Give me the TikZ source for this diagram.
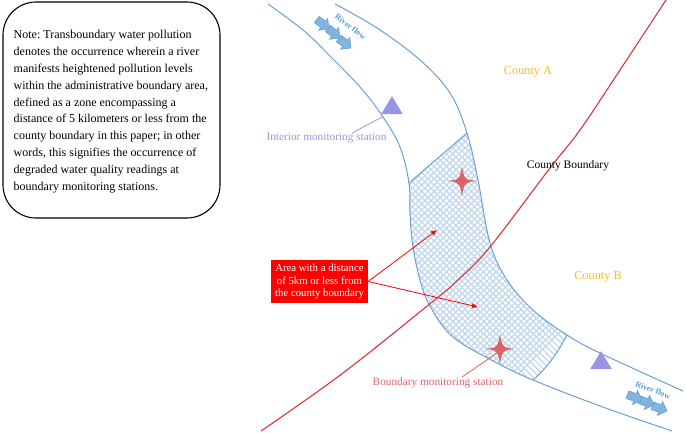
\documentclass[tikz,border=0pt]{standalone}
\usepackage{fontspec}
\setmainfont{Liberation Serif}
\usetikzlibrary{shapes.geometric,arrows.meta}
\frenchspacing
\definecolor{riverblue}{HTML}{6A9FD6}
\definecolor{hatchblue}{HTML}{BFD6ED}
\definecolor{flowblue}{HTML}{85B3E0}
\definecolor{flowedge}{HTML}{5B9BD5}
\definecolor{boundred}{HTML}{DD3338}
\definecolor{starred}{HTML}{DB6468}
\definecolor{tripurple}{HTML}{9896E2}
\definecolor{countyorange}{HTML}{F7BC1E}
\tikzset{
  bank/.style={draw=riverblue,line width=1pt},
  flowshape/.style={draw=flowedge,fill=flowblue,line width=0.5pt,line join=miter},
  flowtext/.style={text=flowedge,font=\bfseries\fontsize{8.2}{9}\selectfont,inner sep=0pt},
  countytext/.style={text=countyorange,font=\fontsize{12.3}{14}\selectfont,inner sep=0pt},
  notetext/.style={anchor=base west,inner sep=0pt,font=\fontsize{12}{14}\selectfont},
  stationtext/.style={inner sep=0pt,font=\fontsize{11.3}{13}\selectfont},
  redarrow/.style={draw=red,line width=0.8pt,-{Latex[length=6pt,width=5.5pt]}},
  tri/.style={isosceles triangle,isosceles triangle apex angle=62,shape border rotate=90,fill=tripurple,inner sep=0pt,minimum height=18pt},
}
\newcommand{\fourstar}[2]{%
  \fill[starred] (#1+15,#2) .. controls (#1+3,#2+1.2) and (#1+2,#2+2) .. (#1,#2+15)
   .. controls (#1-2,#2+2) and (#1-3,#2+1.2) .. (#1-15,#2)
   .. controls (#1-3,#2-1.2) and (#1-2,#2-2) .. (#1,#2-15)
   .. controls (#1+2,#2-2) and (#1+3,#2-1.2) .. (#1+15,#2) -- cycle;}
\newcommand{\flowarr}[3]{%
  \begin{scope}[shift={(#1,#2)},rotate=#3]
  \draw[flowshape] (0,0) -- (-7.5,-7.5) -- (-7.5,-4) -- (-15.5,-4) -- (-15.5,4) -- (-7.5,4) -- (-7.5,7.5) -- cycle;
  \end{scope}}
\begin{document}
\begin{tikzpicture}[x=1pt,y=-1pt]
\useasboundingbox (0,0) rectangle (685,433);
% note box
\draw[line width=1.1pt,rounded corners=33pt] (3,2) rectangle (220,218);
\node[notetext] (n1) at (13.5,39) {Note: Transboundary water pollution};
\node[notetext] (n2) at (13.5,55.8) {denotes the occurrence wherein a river};
\node[notetext] (n3) at (13.5,72.6) {manifests heightened pollution levels};
\node[notetext] (n4) at (13.5,89.4) {within the administrative boundary area,};
\node[notetext] (n5) at (13.5,106.2) {defined as a zone encompassing a};
\node[notetext] (n6) at (13.5,123) {distance of 5 kilometers or less from the};
\node[notetext] (n7) at (13.5,139.8) {county boundary in this paper; in other};
\node[notetext] (n8) at (13.5,156.6) {words, this signifies the occurrence of};
\node[notetext] (n9) at (13.5,173.4) {degraded water quality readings at};
\node[notetext] (n10) at (13.5,190.2) {boundary monitoring stations.};
% hatched zone
\begin{scope}
\clip plot[smooth,tension=0.6] coordinates {(409,183) (410,215) (413,247) (420,280) (430,306) (453,337) (497,363) (533,380)}
  .. controls (548,367) and (558,352) .. (567,335)
  -- plot[smooth,tension=0.6] coordinates {(567,335) (533,310) (507,280) (490,243) (478,180) (467,133)} -- cycle;
\foreach \k in {-50,...,60}{
  \draw[hatchblue,line width=1.2pt] (400+\k*6.2,120) -- ++(300,300);
  \draw[hatchblue,line width=1.2pt] (400+\k*6.2,120) -- ++(-300,300);
}
\end{scope}
% river banks
\draw[bank] plot[smooth,tension=0.6] coordinates {(268,4) (303,30) (327,53) (360,87) (383,117) (400,147) (409,183) (410,215) (413,247) (420,280) (430,306) (453,337) (497,363) (533,380) (600,406) (672,431)};
\draw[bank] plot[smooth,tension=0.6] coordinates {(335,4) (377,28) (420,60) (450,93) (467,133) (478,180) (490,243) (507,280) (533,310) (567,335) (602,354) (683,391)};
\draw[bank] (409,183) -- (467,133);
\draw[bank] (533,380) .. controls (548,367) and (558,352) .. (567,335);
% county boundary
\draw[boundred,line width=1.1pt] plot[smooth,tension=0.6] coordinates {(261,431) (343,373) (437,298) (458,280) (490,247) (550,168) (580,130) (620,70) (666,0)};
% stars and triangles
\fourstar{462}{181}
\fourstar{500}{349}
\node[tri] (t1) at (392,108) {};
\node[tri] (t2) at (601,363) {};
% flow arrows
\flowarr{351}{48}{-38}
\flowarr{340}{38}{-38}
\flowarr{329}{29}{-38}
\flowarr{667}{411}{-20}
\flowarr{654}{405}{-20}
\flowarr{642}{400}{-20}
\node[flowtext,rotate=-38] (f1) at (350.5,26.5) {River flow};
\node[flowtext,rotate=-21] (f2) at (653,390) {River flow};
% labels
\node[stationtext,text=tripurple] (l1) at (326.5,137.5) {Interior monitoring station};
\node[stationtext,text=starred] (l2) at (438,382.5) {Boundary monitoring station};
\coordinate (t1c) at (383,116.5);
\coordinate (s2c) at (497,353);
\draw[tripurple,line width=0.8pt] (352,133) -- (t1c);
\draw[starred,line width=0.8pt] (462,377) -- (s2c);
\node[countytext] (ca) at (528,72) {County A};
\node[countytext] (cb) at (598,277) {County B};
\node[inner sep=0pt,font=\fontsize{11.5}{13}\selectfont] (cbd) at (568,166) {County Boundary};
% red box
\node[fill=red,text=white,align=center,inner sep=0pt,minimum width=97pt,minimum height=43pt,font=\fontsize{10.8}{12.6}\selectfont] (area) at (319.5,281.5) {Area with a distance\\of 5km or less from\\the county boundary};
\coordinate (z1) at (437,230);
\coordinate (z2) at (478,307);
\draw[redarrow] (area.east) -- (z1);
\draw[redarrow] (area.east) -- (z2);
\end{tikzpicture}
\end{document}
